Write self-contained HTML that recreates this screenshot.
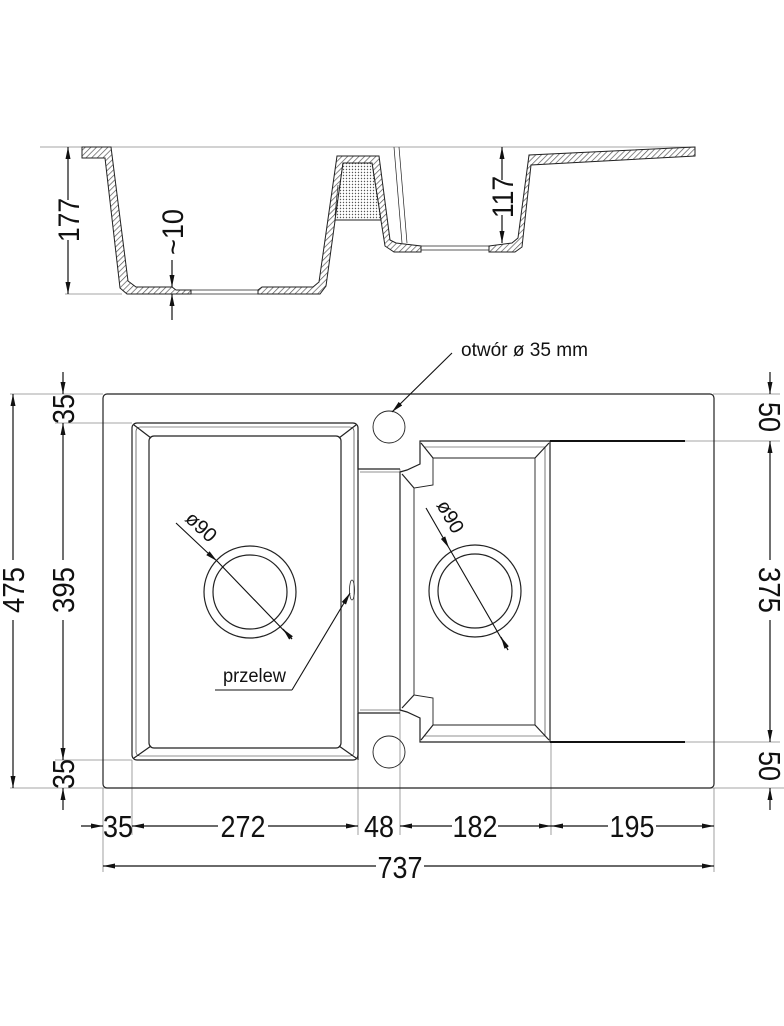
<!DOCTYPE html>
<html><head><meta charset="utf-8"><style>
html,body{margin:0;padding:0;background:#fff;}
svg{display:block;}
text{font-family:"Liberation Sans",sans-serif;fill:#111;}
</style></head><body>
<svg width="784" height="1026" viewBox="0 0 784 1026" xmlns="http://www.w3.org/2000/svg">
<defs>
<pattern id="h" width="4" height="4" patternUnits="userSpaceOnUse" patternTransform="rotate(45)">
<rect width="4" height="4" fill="#fff"/><line x1="0" y1="0" x2="0" y2="4" stroke="#555" stroke-width="1.4"/>
</pattern>
<pattern id="d" width="3" height="3" patternUnits="userSpaceOnUse">
<rect width="3" height="3" fill="#fff"/><circle cx="1.5" cy="1.5" r="0.7" fill="#555"/>
</pattern>
<marker id="a" viewBox="0 0 12 6" refX="12" refY="3" markerWidth="12" markerHeight="6" markerUnits="userSpaceOnUse" orient="auto-start-reverse">
<path d="M0,0.5 L12,3 L0,5.5 Z" fill="#111"/>
</marker>
</defs>

<g stroke="#222" stroke-width="1">
<line x1="40" y1="147" x2="695" y2="147" stroke="#888" stroke-width="0.8"/>
<line x1="65" y1="294" x2="122" y2="294" stroke="#888" stroke-width="0.8"/>
<path d="M82,147 L111,147 L128,281 L136,287 L172,287 L176,290 L191,290 L191,294 L127,294 L120,288 L105,158 L82,158 Z" fill="url(#h)"/>
<path d="M258,290 L262,287 L313,287 L319,282 L337,156 L379,156 L390,240 L396,243 L421,246 L421,252 L394,252 L385,246 L372,163 L343,163 L326,286 L320,294 L258,294 Z" fill="url(#h)"/>
<path d="M343,163 L372,163 L381,220 L335,220 Z" fill="url(#d)"/>
<path d="M489,246 L512,243 L518,238 L529,155 L695,147 L695,156 L531,165 L522,247 L515,252 L489,252 Z" fill="url(#h)"/>
<line x1="191" y1="290" x2="258" y2="290" stroke-width="0.7"/>
<line x1="191" y1="294" x2="258" y2="294" stroke-width="0.7"/>
<line x1="421" y1="246" x2="489" y2="246" stroke-width="0.7"/>
<line x1="421" y1="250" x2="489" y2="250" stroke-width="0.7"/>
<line x1="394" y1="147" x2="402" y2="243" stroke-width="0.7"/>
<line x1="399" y1="147" x2="407" y2="243" stroke-width="0.7"/>
<line x1="338" y1="185" x2="335" y2="215" stroke-width="0.7"/>
</g>
<g stroke="#111" stroke-width="1.2" fill="none">
<line x1="68" y1="200" x2="68" y2="147" marker-end="url(#a)"/>
<line x1="68" y1="240" x2="68" y2="294" marker-end="url(#a)"/>
<line x1="172" y1="260" x2="172" y2="287" marker-end="url(#a)"/>
<line x1="172" y1="320" x2="172" y2="294" marker-end="url(#a)"/>
<line x1="502" y1="180" x2="502" y2="147" marker-end="url(#a)"/>
<line x1="502" y1="215" x2="502" y2="243" marker-end="url(#a)"/>
</g>
<text transform="translate(79,220) rotate(-90)" font-size="30" text-anchor="middle" textLength="44" lengthAdjust="spacingAndGlyphs">177</text>
<text transform="translate(183,232) rotate(-90)" font-size="30" text-anchor="middle" textLength="46" lengthAdjust="spacingAndGlyphs">~10</text>
<text transform="translate(513,197) rotate(-90)" font-size="30" text-anchor="middle" textLength="42" lengthAdjust="spacingAndGlyphs">117</text>

<g stroke="#888" stroke-width="0.8" fill="none">
<line x1="10" y1="394" x2="103" y2="394"/>
<line x1="55" y1="423" x2="132" y2="423"/>
<line x1="55" y1="760" x2="132" y2="760"/>
<line x1="10" y1="788" x2="784" y2="788"/>
<line x1="713" y1="394" x2="780" y2="394"/>
<line x1="685" y1="441" x2="780" y2="441"/>
<line x1="685" y1="742" x2="780" y2="742"/>
<line x1="103" y1="788" x2="103" y2="872"/>
<line x1="714" y1="788" x2="714" y2="872"/>
<line x1="132" y1="760" x2="132" y2="835"/>
<line x1="358" y1="713" x2="358" y2="835"/>
<line x1="400" y1="469" x2="400" y2="835"/>
<line x1="551" y1="742" x2="551" y2="835"/>
</g>
<g stroke="#222" stroke-width="1.2" fill="none">
<rect x="103" y="394" width="611" height="394" rx="4"/>
<rect x="132" y="423" width="226" height="337" rx="5"/>
<rect x="136" y="427" width="218" height="329" rx="4" stroke-width="0.6"/>
<rect x="149" y="436" width="192" height="312" rx="5"/>
<line x1="134" y1="425" x2="151" y2="438"/><line x1="356" y1="425" x2="339" y2="438"/>
<line x1="134" y1="758" x2="151" y2="746"/><line x1="356" y1="758" x2="339" y2="746"/>
<path d="M358,440 L358,469 L400,469 M358,713 L400,713 M358,713 L358,760"/>
<line x1="360" y1="472" x2="400" y2="472" stroke-width="0.6"/>
<line x1="360" y1="710" x2="400" y2="710" stroke-width="0.6"/>
<path d="M685,441 L420,441 L420,464 L407,470 L400,472 L400,710 L407,712 L420,718 L420,742 L685,742"/>
<line x1="550" y1="441" x2="550" y2="742"/>
<path d="M433,458 L535,458 L535,725 L433,725 L433,698 L414,695 L414,488 L433,485 Z" stroke-width="0.9"/>
<path d="M424,447 L545,447 L545,736 L424,736" stroke-width="0.6"/>
<line x1="421" y1="443" x2="433" y2="458"/><line x1="549" y1="443" x2="535" y2="458"/>
<line x1="421" y1="740" x2="433" y2="725"/><line x1="549" y1="740" x2="535" y2="725"/>
<line x1="402" y1="474" x2="414" y2="488"/><line x1="402" y1="708" x2="414" y2="695"/>
<circle cx="250" cy="592" r="46"/><circle cx="250" cy="592" r="37"/>
<circle cx="475" cy="591" r="46"/><circle cx="475" cy="591" r="37"/>
<circle cx="389" cy="427" r="16" stroke-width="0.9"/>
<circle cx="389" cy="752" r="16" stroke-width="0.9"/>
<ellipse cx="352" cy="590" rx="2.5" ry="10" stroke-width="0.8"/>
</g>
<g stroke="#111" stroke-width="2">
<line x1="550" y1="441" x2="685" y2="441"/>
<line x1="550" y1="742" x2="685" y2="742"/>
</g>

<g stroke="#111" stroke-width="1.1" fill="none">
<line x1="452" y1="353" x2="392" y2="412" marker-end="url(#a)"/>
<line x1="215" y1="690" x2="292" y2="690"/>
<line x1="292" y1="690" x2="350" y2="593" marker-end="url(#a)"/>
<line x1="176" y1="523" x2="210" y2="555"/>
<line x1="210" y1="555" x2="217" y2="561" marker-end="url(#a)"/>
<line x1="217" y1="561" x2="292" y2="639"/>
<line x1="292" y1="639" x2="283" y2="629" marker-end="url(#a)"/>
<line x1="426" y1="508" x2="449" y2="548" marker-end="url(#a)"/>
<line x1="449" y1="548" x2="508" y2="650"/>
<line x1="508" y1="650" x2="501" y2="637" marker-end="url(#a)"/>
</g>
<text x="461" y="356" font-size="19" textLength="127" lengthAdjust="spacingAndGlyphs">otwór ø 35 mm</text>
<text x="223" y="682" font-size="19" textLength="63" lengthAdjust="spacingAndGlyphs">przelew</text>
<text transform="translate(184,520) rotate(43)" font-size="20">ø90</text>
<text transform="translate(436,505) rotate(60)" font-size="20">ø90</text>

<g stroke="#111" stroke-width="1.2" fill="none">
<line x1="13" y1="560" x2="13" y2="394" marker-end="url(#a)"/>
<line x1="13" y1="620" x2="13" y2="788" marker-end="url(#a)"/>
<line x1="63" y1="560" x2="63" y2="423" marker-end="url(#a)"/>
<line x1="63" y1="620" x2="63" y2="760" marker-end="url(#a)"/>
<line x1="63" y1="372" x2="63" y2="394" marker-end="url(#a)"/>
<line x1="63" y1="810" x2="63" y2="788" marker-end="url(#a)"/>
<line x1="770" y1="372" x2="770" y2="394" marker-end="url(#a)"/>
<line x1="770" y1="560" x2="770" y2="441" marker-end="url(#a)"/>
<line x1="770" y1="620" x2="770" y2="742" marker-end="url(#a)"/>
<line x1="770" y1="810" x2="770" y2="788" marker-end="url(#a)"/>
</g>
<text transform="translate(24,590) rotate(-90)" font-size="31" text-anchor="middle" textLength="46" lengthAdjust="spacingAndGlyphs">475</text>
<text transform="translate(74,590) rotate(-90)" font-size="31" text-anchor="middle" textLength="46" lengthAdjust="spacingAndGlyphs">395</text>
<text transform="translate(74,409) rotate(-90)" font-size="31" text-anchor="middle" textLength="30" lengthAdjust="spacingAndGlyphs">35</text>
<text transform="translate(74,774) rotate(-90)" font-size="31" text-anchor="middle" textLength="30" lengthAdjust="spacingAndGlyphs">35</text>
<text transform="translate(759,417) rotate(90)" font-size="31" text-anchor="middle" textLength="30" lengthAdjust="spacingAndGlyphs">50</text>
<text transform="translate(759,590) rotate(90)" font-size="31" text-anchor="middle" textLength="46" lengthAdjust="spacingAndGlyphs">375</text>
<text transform="translate(759,766) rotate(90)" font-size="31" text-anchor="middle" textLength="30" lengthAdjust="spacingAndGlyphs">50</text>

<g stroke="#111" stroke-width="1.2" fill="none">
<line x1="81" y1="826" x2="103" y2="826" marker-end="url(#a)"/>
<line x1="218" y1="826" x2="132" y2="826" marker-end="url(#a)"/>
<line x1="268" y1="826" x2="358" y2="826" marker-end="url(#a)"/>
<line x1="452" y1="826" x2="400" y2="826" marker-end="url(#a)"/>
<line x1="498" y1="826" x2="551" y2="826" marker-end="url(#a)"/>
<line x1="608" y1="826" x2="551" y2="826" marker-end="url(#a)"/>
<line x1="656" y1="826" x2="714" y2="826" marker-end="url(#a)"/>
<line x1="376" y1="866" x2="103" y2="866" marker-end="url(#a)"/>
<line x1="424" y1="866" x2="714" y2="866" marker-end="url(#a)"/>
</g>
<g font-size="31" text-anchor="middle">
<text x="118" y="837" textLength="30" lengthAdjust="spacingAndGlyphs">35</text>
<text x="243" y="837" textLength="45" lengthAdjust="spacingAndGlyphs">272</text>
<text x="379" y="837" textLength="30" lengthAdjust="spacingAndGlyphs">48</text>
<text x="475" y="837" textLength="45" lengthAdjust="spacingAndGlyphs">182</text>
<text x="632" y="837" textLength="45" lengthAdjust="spacingAndGlyphs">195</text>
<text x="400" y="878" textLength="45" lengthAdjust="spacingAndGlyphs">737</text>
</g>
</svg>
</body></html>
